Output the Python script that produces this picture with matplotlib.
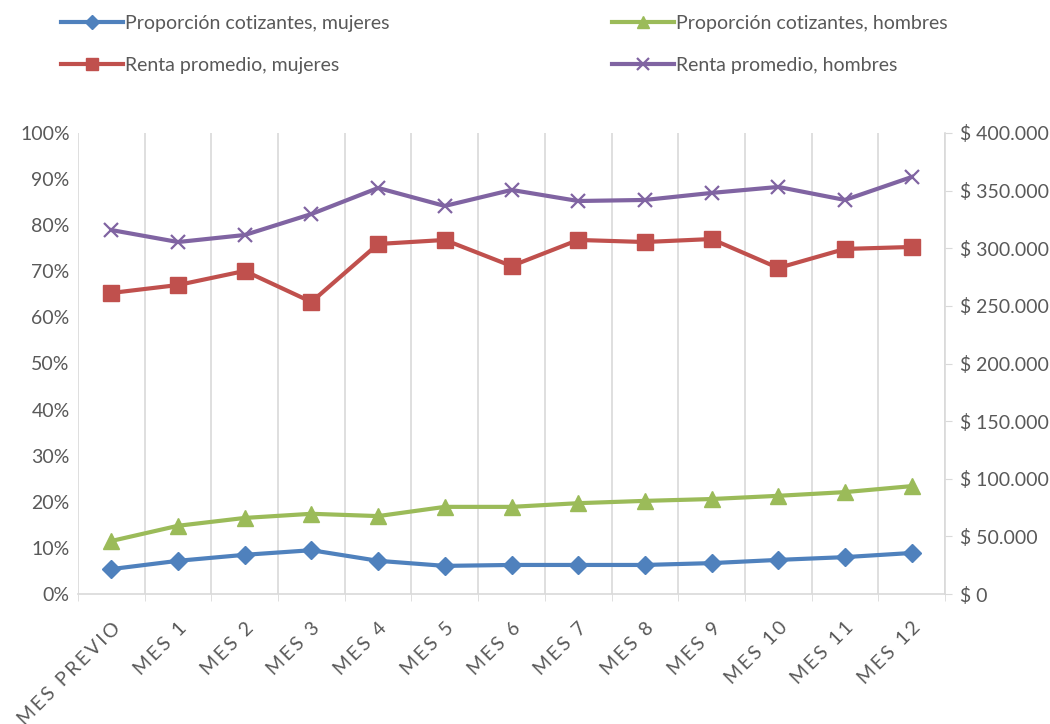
import matplotlib.pyplot as plt
import numpy as np
from matplotlib.ticker import FuncFormatter, MultipleLocator, FixedLocator

plt.rcParams['font.family'] = ['Lato', 'DejaVu Sans']

meses = ["MES PREVIO", "MES 1", "MES 2", "MES 3", "MES 4", "MES 5", "MES 6",
         "MES 7", "MES 8", "MES 9", "MES 10", "MES 11", "MES 12"]

prop_mujeres = [0.054, 0.072, 0.085, 0.095, 0.072, 0.061, 0.063, 0.063, 0.063, 0.067, 0.074, 0.080, 0.089]
prop_hombres = [0.115, 0.148, 0.165, 0.174, 0.169, 0.189, 0.189, 0.197, 0.202, 0.206, 0.213, 0.221, 0.234]
renta_mujeres = [261200, 268100, 280300, 253400, 303700, 307200, 284600, 307200, 305400, 308000, 282900, 299400, 301100]
renta_hombres = [315800, 305400, 311500, 329700, 352300, 336700, 350600, 341000, 341900, 348000, 353200, 341900, 361800]

c_blue = "#4F81BD"
c_red = "#C0504D"
c_green = "#9BBB59"
c_purple = "#8064A2"
grid_c = "#D9D9D9"
txt_c = "#595959"

fig = plt.figure(figsize=(10.5, 7.24), dpi=100)
ax = fig.add_axes([78/1050, 130/724, 867/1050, 461/724])
ax2 = ax.twinx()

x = np.arange(len(meses))
l1, = ax.plot(x, prop_mujeres, color=c_blue, lw=3, marker="D", ms=9)
l2, = ax.plot(x, prop_hombres, color=c_green, lw=3, marker="^", ms=11)
l3, = ax2.plot(x, renta_mujeres, color=c_red, lw=3, marker="s", ms=11)
l4, = ax2.plot(x, renta_hombres, color=c_purple, lw=3, marker="x", ms=10, mew=1.6)

ax.set_xlim(-0.5, len(meses) - 0.5)
ax.set_ylim(0, 1)
ax2.set_ylim(0, 400000)

ax.yaxis.set_major_locator(MultipleLocator(0.1))
ax.yaxis.set_major_formatter(FuncFormatter(lambda v, p: f"{v*100:.0f}%"))
ax2.yaxis.set_major_locator(MultipleLocator(50000))
ax2.yaxis.set_major_formatter(FuncFormatter(lambda v, p: "$ 0" if v == 0 else "$ " + f"{v:,.0f}".replace(",", ".")))

# Excel-like letter spacing on the rotated category labels
spaced = ["\u2009".join(m) for m in meses]
ax.set_xticks(x)
ax.set_xticklabels(spaced, rotation=45, ha="right", va="top", rotation_mode="anchor")
ax.xaxis.set_minor_locator(FixedLocator(np.arange(-0.5, len(meses), 1.0)))
ax.grid(True, which="minor", axis="x", color=grid_c, lw=1.2)
ax.tick_params(axis="x", which="major", length=0, labelsize=14, colors=txt_c, pad=18)
ax.tick_params(axis="x", which="minor", length=5, color=grid_c)
ax.tick_params(axis="y", length=0, labelsize=14, colors=txt_c, pad=6)
ax2.tick_params(axis="y", length=5, color=grid_c, labelsize=14, labelcolor=txt_c, pad=6)

for s in ["top", "left", "right"]:
    ax.spines[s].set_visible(False)
ax.spines["bottom"].set_color(grid_c)
ax.spines["bottom"].set_linewidth(1.2)
for s in ["top", "left", "bottom"]:
    ax2.spines[s].set_visible(False)
ax2.spines["right"].set_color(grid_c)
ax2.spines["right"].set_linewidth(1.2)

leg_kw = dict(frameon=False, fontsize=14, handlelength=3.2, handletextpad=0.1,
              labelspacing=1.3, labelcolor=txt_c, borderaxespad=0)
leg1 = fig.legend([l1, l3], ["Proporción cotizantes, mujeres", "Renta promedio, mujeres"],
                  loc="upper left", bbox_to_anchor=(53/1050, 1 - 7/724), **leg_kw)
leg2 = fig.legend([l2, l4], ["Proporción cotizantes, hombres", "Renta promedio, hombres"],
                  loc="upper left", bbox_to_anchor=(604/1050, 1 - 7/724), **leg_kw)
for leg in (leg1, leg2):
    for h in leg.legend_handles:
        h.set_markersize(h.get_markersize() * 0.8)

fig.savefig("out.png", dpi=100)
